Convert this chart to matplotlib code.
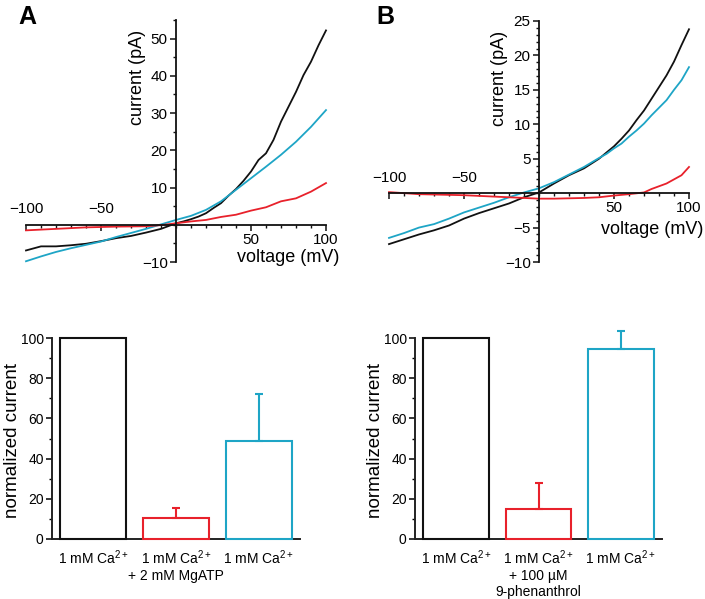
import matplotlib
matplotlib.use('Agg')
import matplotlib.pyplot as plt
from matplotlib.ticker import MultipleLocator

plt.rcParams['font.family'] = ['Liberation Sans', 'DejaVu Sans']
plt.rcParams['mathtext.fontset'] = 'custom'
plt.rcParams['mathtext.rm'] = 'Liberation Sans'
plt.rcParams['mathtext.it'] = 'Liberation Sans:italic'
plt.rcParams['mathtext.bf'] = 'Liberation Sans:bold'

BLACK = '#111111'
RED = '#e8212b'
CYAN = '#1ea5c6'

# ---------------- Panel A I-V data ----------------
vA_black = [-100, -90, -80, -70, -60, -50, -40, -30, -20, -10, 0, 5, 10, 15, 20, 25, 30, 35, 40,
            45, 50, 55, 60, 65, 70, 75, 80, 85, 90, 95, 100]
iA_black = [-6.9, -5.8, -5.8, -5.5, -5.1, -4.4, -3.6, -3.0, -2.1, -1.1, 0.4, 0.9, 1.5, 2.2, 3.1, 4.5,
            5.8, 7.8, 9.6, 11.8, 14.3, 17.4, 19.2, 22.8, 27.7, 31.7, 35.7, 40.2, 43.8, 48.2, 52.2]
vA_cyan = [-100, -90, -80, -70, -60, -50, -40, -30, -20, -10, 0, 10, 20, 30, 40, 50, 60, 70, 80, 90, 100]
iA_cyan = [-9.8, -8.5, -7.3, -6.3, -5.4, -4.5, -3.3, -2.2, -1.1, 0.1, 1.3, 2.4, 4.0, 6.3, 9.4, 12.5,
           15.6, 18.8, 22.3, 26.3, 30.8]
vA_red = [-100, -90, -80, -70, -60, -50, -40, -30, -20, -10, 0, 10, 20, 30, 40, 50, 60, 70, 80, 90, 100]
iA_red = [-1.5, -1.3, -1.1, -0.9, -0.7, -0.6, -0.5, -0.45, -0.4, -0.1, 0.4, 0.9, 1.3, 2.1, 2.7, 3.8,
          4.7, 6.3, 7.1, 8.9, 11.2]

# ---------------- Panel B I-V data ----------------
vB_black = [-100, -90, -80, -70, -60, -50, -40, -30, -20, -10, 0, 10, 20, 30, 35, 40, 45, 50, 55,
            60, 65, 70, 75, 80, 85, 90, 95, 100]
iB_black = [-7.4, -6.7, -6.0, -5.4, -4.7, -3.7, -2.9, -2.2, -1.5, -0.6, 0.1, 1.4, 2.6, 3.6, 4.3, 5.0,
            5.9, 6.8, 7.9, 9.1, 10.6, 12.0, 13.7, 15.4, 17.1, 19.1, 21.5, 23.8]
vB_cyan = [-100, -90, -80, -70, -60, -50, -40, -30, -20, -10, 0, 10, 20, 30, 40, 45, 50, 55, 60, 65,
           70, 75, 80, 85, 90, 95, 100]
iB_cyan = [-6.5, -5.8, -5.0, -4.5, -3.7, -2.8, -2.1, -1.4, -0.6, 0.1, 0.7, 1.6, 2.7, 3.8, 5.1, 5.7,
           6.5, 7.2, 8.2, 9.1, 10.1, 11.3, 12.4, 13.5, 15.0, 16.4, 18.3]
vB_red = [-100, -90, -80, -70, -60, -50, -40, -30, -20, -10, 0, 10, 20, 30, 40, 50, 60, 70, 75, 80,
          85, 90, 95, 100]
iB_red = [0.15, 0.0, -0.15, -0.2, -0.25, -0.3, -0.4, -0.5, -0.6, -0.7, -0.8, -0.8, -0.75, -0.7, -0.6,
          -0.35, -0.15, 0.1, 0.6, 1.0, 1.4, 2.0, 2.6, 3.8]

# ---------------- Bar data ----------------
barA_labels = [r'1 mM Ca$^{2+}$', '1 mM Ca$^{2+}$\n+ 2 mM MgATP', r'1 mM Ca$^{2+}$']
barA_values = [100, 10.5, 49]
barA_err = [0, 5, 23]
barB_labels = [r'1 mM Ca$^{2+}$', '1 mM Ca$^{2+}$\n+ 100 µM\n9-phenanthrol', r'1 mM Ca$^{2+}$']
barB_values = [100, 15, 94.5]
barB_err = [0, 13, 9]
bar_colors = [BLACK, RED, CYAN]

W, H = 705, 599
fig = plt.figure(figsize=(W / 100, H / 100), dpi=100)


def px_rect(x0, y0, x1, y1):
    return [x0 / W, 1 - y1 / H, (x1 - x0) / W, (y1 - y0) / H]


def iv_axes(rect, ylim, yticks, yminor, series):
    ax = fig.add_axes(rect)
    ax.patch.set_alpha(0)
    for v, i, c in series:
        ax.plot(v, i, color=c, lw=1.3, clip_on=False)
    ax.set_xlim(-100, 100)
    ax.set_ylim(*ylim)
    for s in ('left', 'bottom', 'top'):
        ax.spines[s].set_position(('data', 0))
    ax.spines['right'].set_visible(False)
    ax.spines['top'].set_visible(False)
    for s in ('left', 'bottom'):
        ax.spines[s].set_linewidth(1.3)
        ax.spines[s].set_color(BLACK)
    ax.set_xticks([-100, -50, 50, 100])
    ax.xaxis.set_minor_locator(MultipleLocator(10))
    ax.set_yticks(yticks)
    ax.yaxis.set_minor_locator(MultipleLocator(yminor))
    ax.tick_params(axis='both', which='major', length=4, width=1.1, labelsize=11, pad=2, color=BLACK)
    ax.tick_params(axis='both', which='minor', length=2.3, width=1.0, color=BLACK)
    ax.tick_params(axis='x', which='both', direction='out', bottom=True, top=False,
                   labelbottom=True, labeltop=True)
    ax.tick_params(axis='y', which='both', direction='out', left=True, right=False)
    ticks = ax.xaxis.get_major_ticks()
    for t, loc in zip(ticks, [-100, -50, 50, 100]):
        if loc < 0:
            t.label1.set_visible(False)
        else:
            t.label2.set_visible(False)
    return ax


axA = iv_axes(px_rect(26, 20, 326, 262), (-10, 55), [-10, 10, 20, 30, 40, 50], 5,
              [(vA_black, iA_black, BLACK), (vA_cyan, iA_cyan, CYAN), (vA_red, iA_red, RED)])
axB = iv_axes(px_rect(389, 21, 689, 262), (-10, 25), [-10, -5, 5, 10, 15, 20, 25], 1,
              [(vB_black, iB_black, BLACK), (vB_cyan, iB_cyan, CYAN), (vB_red, iB_red, RED)])

fig.text(137 / W, 1 - 77 / H, 'current (pA)', rotation=90, ha='center', va='center', fontsize=13)
fig.text(500 / W, 1 - 78 / H, 'current (pA)', rotation=90, ha='center', va='center', fontsize=13)
fig.text(288 / W, 1 - 257 / H, 'voltage (mV)', ha='center', va='center', fontsize=13)
fig.text(652 / W, 1 - 229 / H, 'voltage (mV)', ha='center', va='center', fontsize=13)


def bar_axes(rect, labels, values, errs):
    ax = fig.add_axes(rect)
    ax.patch.set_alpha(0)
    x = list(range(len(values)))
    ax.bar(x, values, width=0.8, fill=False, edgecolor=bar_colors, linewidth=1.5, clip_on=False,
           zorder=3)
    for xi, v, e, c in zip(x, values, errs, bar_colors):
        if e > 0:
            ax.errorbar([xi], [v], yerr=[[0], [e]], fmt='none', ecolor=c, elinewidth=1.5,
                        capsize=3, capthick=1.5, clip_on=False, zorder=3)
    ax.set_xlim(-0.5, 2.5)
    ax.set_ylim(0, 100)
    ax.spines['right'].set_visible(False)
    ax.spines['top'].set_visible(False)
    for s in ('left', 'bottom'):
        ax.spines[s].set_linewidth(1.4)
        ax.spines[s].set_color('#222222')
    ax.set_xticks(x)
    ax.set_xticklabels(labels, fontsize=10, linespacing=1.15)
    ax.tick_params(axis='x', length=0, pad=7)
    ax.set_yticks([0, 20, 40, 60, 80, 100])
    ax.yaxis.set_minor_locator(MultipleLocator(10))
    ax.tick_params(axis='y', which='major', length=4, width=1.1, labelsize=10, pad=2)
    ax.tick_params(axis='y', which='minor', length=2.3, width=1.0)
    return ax


bar_axes(px_rect(52, 338, 300, 539), barA_labels, barA_values, barA_err)
bar_axes(px_rect(415, 338, 662, 539), barB_labels, barB_values, barB_err)

fig.text(13 / W, 1 - 440 / H, 'normalized current', rotation=90, ha='center', va='center', fontsize=13.5)
fig.text(375 / W, 1 - 440 / H, 'normalized current', rotation=90, ha='center', va='center', fontsize=13.5)

fig.text(18 / W, 1 - 5 / H, 'A', fontsize=18, fontweight='bold', ha='left', va='top')
fig.text(376 / W, 1 - 5 / H, 'B', fontsize=18, fontweight='bold', ha='left', va='top')

fig.savefig('out.png', dpi=100)
